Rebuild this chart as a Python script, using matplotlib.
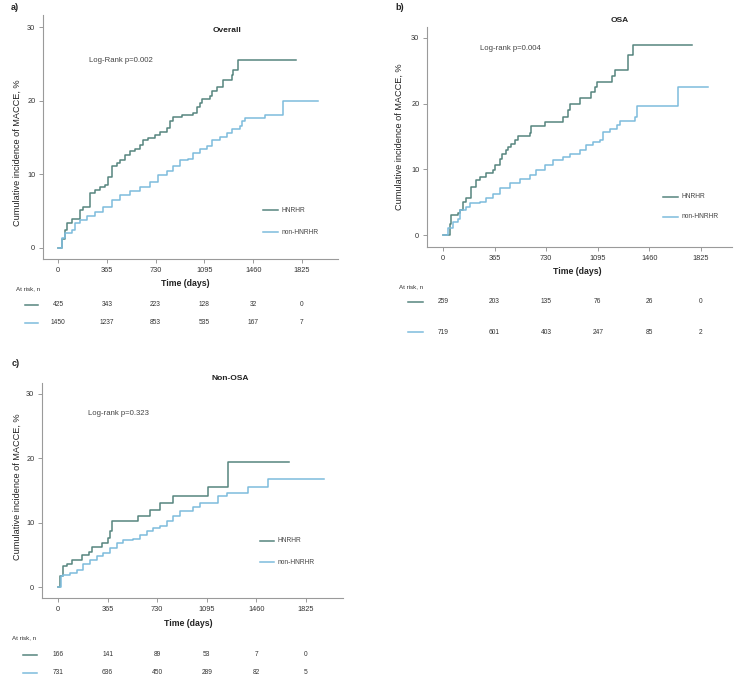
import matplotlib
matplotlib.use("Agg")
import matplotlib.pyplot as plt

plt.rcParams['font.family'] = ['Liberation Sans', 'DejaVu Sans']

W, H = 737, 683
DARK = '#56857f'
LIGHT = '#7dbcdc'
GREY = '#9a9a9a'

# x tick values (days)
ticks_x = [0, 365, 730, 1095, 1460, 1825]
ticks_y = [0, 10, 20, 30]

# ---- panel a) Overall ----
a_hn_t = [0, 27, 52, 65, 102, 165, 190, 239, 277, 314, 352, 377, 401, 439, 464, 501, 539, 576, 614, 638,
          676, 726, 763, 813, 838, 863, 925, 1012, 1037, 1062, 1075, 1137, 1150, 1187, 1237, 1299, 1312,
          1349, 1780]
a_hn_y = [0, 1.2, 2.4, 3.4, 3.9, 5.2, 5.6, 7.5, 7.9, 8.3, 8.6, 9.7, 11.1, 11.5, 12.0, 12.6, 13.1, 13.5,
          14.0, 14.7, 15.0, 15.4, 15.8, 16.3, 17.2, 17.8, 18.1, 18.3, 19.2, 19.7, 20.2, 20.6, 21.3, 21.8,
          22.8, 23.5, 24.2, 25.5, 25.5]
a_non_t = [0, 27, 52, 102, 127, 165, 214, 277, 339, 401, 464, 539, 614, 688, 751, 813, 863, 913, 975,
           1012, 1062, 1112, 1150, 1212, 1262, 1299, 1362, 1374, 1399, 1549, 1686, 1948]
a_non_y = [0, 1.3, 2.0, 2.4, 3.4, 3.8, 4.3, 4.9, 5.6, 6.5, 7.2, 7.7, 8.3, 9.0, 9.9, 10.4, 11.1, 11.9,
           12.1, 12.9, 13.5, 13.9, 14.7, 15.1, 15.6, 16.1, 16.5, 17.2, 17.6, 18.1, 20.0, 20.0]
a_risk_hn = ['425', '343', '223', '128', '32', '0']
a_risk_non = ['1450', '1237', '853', '535', '167', '7']

# ---- panel b) OSA ----
b_hn_t = [0, 47, 59, 106, 118, 142, 165, 201, 231, 260, 302, 354, 366, 401, 420, 449, 460, 484, 508, 531,
          614, 626, 708, 720, 838, 850, 885, 897, 968, 1050, 1074, 1086, 1180, 1192, 1216, 1298, 1310,
          1334, 1346, 1759]
b_hn_y = [0, 1.7, 3.0, 3.3, 3.8, 5.1, 5.6, 7.3, 8.4, 8.9, 9.4, 9.9, 10.7, 11.5, 12.3, 12.9, 13.4, 13.9,
          14.4, 15.1, 15.5, 16.6, 16.6, 17.2, 17.2, 18.0, 19.0, 20.0, 20.8, 21.8, 22.6, 23.3, 23.3, 24.2,
          25.2, 25.2, 27.4, 27.4, 29.0, 29.0]
b_non_t = [0, 35, 71, 106, 118, 165, 189, 260, 307, 354, 401, 472, 543, 614, 661, 720, 779, 850, 897,
           968, 1015, 1062, 1109, 1133, 1180, 1228, 1251, 1357, 1369, 1664, 1877]
b_non_y = [0, 1.0, 2.0, 2.5, 3.8, 4.3, 4.8, 5.1, 5.6, 6.3, 7.1, 7.9, 8.6, 9.1, 9.9, 10.6, 11.4, 11.9,
           12.4, 12.9, 13.7, 14.2, 14.4, 15.7, 16.2, 16.7, 17.4, 18.0, 19.6, 22.5, 22.5]
b_risk_hn = ['259', '203', '135', '76', '26', '0']
b_risk_non = ['719', '601', '403', '247', '85', '2']

# ---- panel c) Non-OSA ----
c_hn_t = [0, 15, 34, 64, 101, 174, 231, 248, 321, 370, 383, 395, 591, 677, 751, 849, 1106, 1253, 1702]
c_hn_y = [0, 1.7, 3.2, 3.5, 4.2, 4.9, 5.5, 6.2, 6.9, 7.6, 8.7, 10.2, 11.1, 12.0, 13.1, 14.1, 15.6, 19.4,
          19.4]
c_non_t = [0, 20, 39, 88, 137, 186, 235, 285, 334, 383, 432, 481, 554, 603, 652, 702, 751, 800, 849, 898,
           996, 1045, 1180, 1241, 1400, 1548, 1957]
c_non_y = [0, 1.7, 1.9, 2.2, 2.7, 3.5, 4.2, 4.8, 5.3, 6.1, 6.8, 7.3, 7.5, 8.1, 8.7, 9.2, 9.5, 10.2, 11.0,
           11.8, 12.5, 13.1, 14.1, 14.6, 15.6, 16.8, 16.8]
c_risk_hn = ['166', '141', '89', '53', '7', '0']
c_risk_non = ['731', '636', '450', '289', '82', '5']

fig = plt.figure(figsize=(W / 100, H / 100), dpi=100)
fig.patch.set_facecolor('white')


def fx(px):
    return px / W


def fy(py):
    return 1 - py / H


def panel(box, px0, px1825, py0, py30, hn, non, risk_hn, risk_non, title, lbl, pval, pos):
    l, t, r, b = box
    ax = fig.add_axes([fx(l), fy(b), fx(r) - fx(l), fy(t) - fy(b)])
    sx = (px1825 - px0) / 1825.0
    sy = (py0 - py30) / 30.0
    ax.set_xlim(-(px0 - l) / sx, 1825 + (r - px1825) / sx)
    ax.set_ylim(-(b - py0) / sy, 30 + (py30 - t) / sy)

    ax.step(hn[0], hn[1], where='post', color=DARK, lw=1.1)
    ax.step(non[0], non[1], where='post', color=LIGHT, lw=1.1)

    for s in ['top', 'right']:
        ax.spines[s].set_visible(False)
    for s in ['left', 'bottom']:
        ax.spines[s].set_color(GREY)
        ax.spines[s].set_linewidth(0.8)
    ax.set_xticks(ticks_x)
    ax.set_yticks(ticks_y)
    ax.tick_params(colors=GREY, labelcolor='#333333', labelsize=5.3, length=3, width=0.7, pad=2.5)

    # labels
    fig.text(fx(pos['ylab'][0]), fy(pos['ylab'][1]), 'Cumulative incidence of MACCE, %',
             rotation=90, ha='center', va='center', fontsize=6.6, color='#222222')
    fig.text(fx(pos['xlab'][0]), fy(pos['xlab'][1]), 'Time (days)', ha='center', va='center',
             fontsize=6.3, fontweight='bold', color='#222222')
    fig.text(fx(pos['title'][0]), fy(pos['title'][1]), title, ha='center', va='center',
             fontsize=6, fontweight='bold', color='#222222')
    fig.text(fx(pos['lbl'][0]), fy(pos['lbl'][1]), lbl, ha='left', va='center',
             fontsize=6.5, fontweight='bold', color='#222222')
    fig.text(fx(pos['p'][0]), fy(pos['p'][1]), pval, ha='left', va='center',
             fontsize=5.6, color='#444444')

    # legend
    lx0, lx1, ly1, ly2 = pos['leg']
    for yy, c, name in [(ly1, DARK, 'HNRHR'), (ly2, LIGHT, 'non-HNRHR')]:
        fig.add_artist(plt.Line2D([fx(lx0), fx(lx1)], [fy(yy), fy(yy)], color=c, lw=1.1))
        fig.text(fx(lx1 + 4), fy(yy), name, ha='left', va='center', fontsize=4.8, color='#444444')

    # at risk table
    ar_x, ar_y, r1, r2, mx0, mx1 = pos['risk']
    fig.text(fx(ar_x), fy(ar_y), 'At risk, n', ha='left', va='center', fontsize=4.5, color='#333333')
    for yy, c, vals in [(r1, DARK, risk_hn), (r2, LIGHT, risk_non)]:
        fig.add_artist(plt.Line2D([fx(mx0), fx(mx1)], [fy(yy), fy(yy)], color=c, lw=1.1))
        for tx, v in zip(ticks_x, vals):
            xpix = px0 + tx * sx
            fig.text(fx(xpix), fy(yy), v, ha='center', va='center', fontsize=4.8, color='#333333')
    return ax


panel((43, 15, 338, 259), 58, 302, 248, 27, (a_hn_t, a_hn_y), (a_non_t, a_non_y),
      a_risk_hn, a_risk_non, 'Overall', 'a)', 'Log-Rank p=0.002',
      {'ylab': (17, 153), 'xlab': (185, 283), 'title': (227, 30), 'lbl': (11, 7),
       'p': (89, 61), 'leg': (263, 278, 210, 232), 'risk': (16, 289, 305, 323, 25, 38)})

panel((427, 27, 732, 247), 443, 701, 235, 38, (b_hn_t, b_hn_y), (b_non_t, b_non_y),
      b_risk_hn, b_risk_non, 'OSA', 'b)', 'Log-rank p=0.004',
      {'ylab': (399, 137), 'xlab': (577, 271), 'title': (620, 20), 'lbl': (395, 7),
       'p': (480, 49), 'leg': (663, 678, 197, 217), 'risk': (399, 287, 302, 332, 408, 423)})

panel((42, 383, 343, 598), 58, 306, 587, 394, (c_hn_t, c_hn_y), (c_non_t, c_non_y),
      c_risk_hn, c_risk_non, 'Non-OSA', 'c)', 'Log-rank p=0.323',
      {'ylab': (17, 487), 'xlab': (188, 623), 'title': (230, 378), 'lbl': (12, 363),
       'p': (88, 413), 'leg': (260, 274, 541, 562), 'risk': (12, 638, 655, 673, 23, 37)})

fig.savefig('out.png', dpi=100)
